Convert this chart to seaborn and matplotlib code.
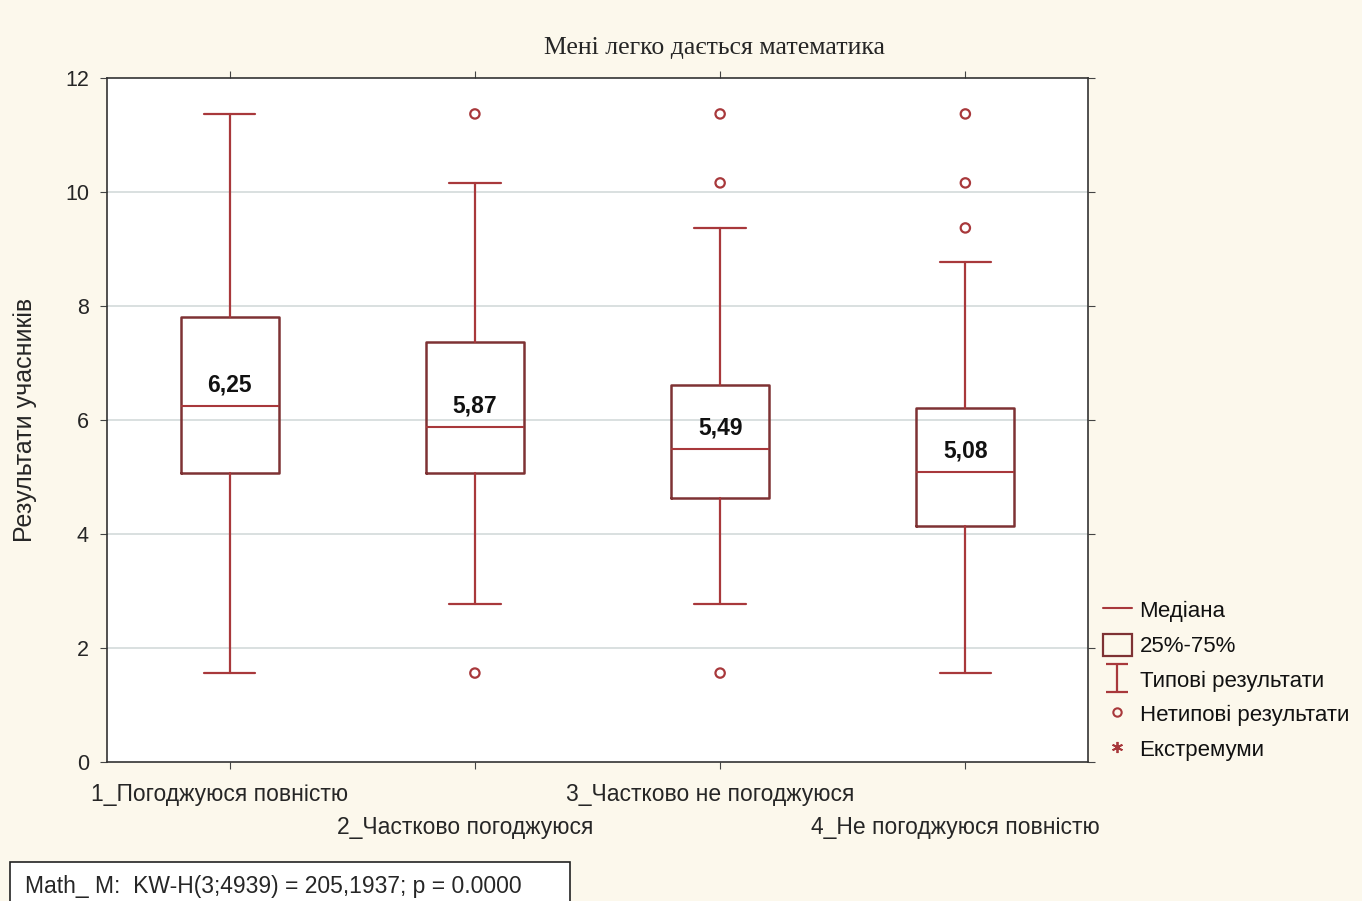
import matplotlib
matplotlib.use("Agg")
import matplotlib.pyplot as plt
import seaborn as sns
import pandas as pd
from matplotlib.lines import Line2D
from matplotlib.patches import Rectangle
from matplotlib.path import Path
from matplotlib.transforms import ScaledTranslation

sns.set_style("white")
plt.rcParams['font.family'] = ['Liberation Sans', 'DejaVu Sans']

groups = ["1_Погоджуюся повністю", "2_Частково погоджуюся",
          "3_Частково не погоджуюся", "4_Не погоджуюся повністю"]
medians = [6.25, 5.87, 5.49, 5.08]
q1 = [5.07, 5.07, 4.63, 4.14]
q3 = [7.81, 7.37, 6.61, 6.21]
whislo = [1.56, 2.77, 2.77, 1.56]
whishi = [11.37, 10.16, 9.37, 8.77]
outliers = [[], [11.37, 1.56], [11.37, 10.16, 1.56], [11.37, 10.16, 9.37]]

red = "#a8383b"
dark = "#7e3234"
bg = "#fcf8ec"

fig = plt.figure(figsize=(13.62, 9.01), dpi=100, facecolor=bg)
ax = fig.add_axes([0.0786, 0.1543, 0.7202, 0.7591])
ax.set_facecolor("white")

stats = [dict(med=m, q1=a, q3=b, whislo=lo, whishi=hi, fliers=[])
         for m, a, b, lo, hi in zip(medians, q1, q3, whislo, whishi)]
ax.bxp(stats, positions=range(4), widths=0.4, showfliers=False,
       boxprops=dict(color=dark, linewidth=1.8),
       medianprops=dict(color=red, linewidth=1.5),
       whiskerprops=dict(color=red, linewidth=1.6),
       capprops=dict(color=red, linewidth=1.6), capwidths=0.21)

fl = pd.DataFrame([(i, v) for i, vals in enumerate(outliers) for v in vals], columns=["x", "y"])
sns.scatterplot(data=fl, x="x", y="y", ax=ax, marker="o", s=45,
                facecolor="none", edgecolor=red, linewidth=1.6, zorder=3)

for i, m in enumerate(medians):
    ax.annotate(f"{m:.2f}".replace(".", ","), (i, m), xytext=(0, 7), textcoords="offset points",
                ha="center", va="bottom", fontsize=16.5, fontweight="bold", color="#111111")

ax.set_xlim(-0.5, 3.5)
ax.set_ylim(0, 12)
ax.set_yticks(range(0, 13, 2))
ax.set_yticklabels([str(v) for v in range(0, 13, 2)], fontsize=15.5)
ax.set_xticks(range(4))
ax.set_xticklabels(groups, fontsize=16.5)
ax.tick_params(axis="both", direction="out", length=5, color="#444444", pad=10)
ax.tick_params(axis="y", pad=8)
ax.tick_params(top=True, right=True, left=True, bottom=True, labeltop=False, labelright=False)
shift = ScaledTranslation(-0.10, 0, fig.dpi_scale_trans)
for i, t in enumerate(ax.xaxis.get_major_ticks()):
    if i % 2 == 1:
        t.set_pad(34)
    t.label1.set_transform(t.label1.get_transform() + shift)
ax.set_xlabel("")
ax.set_ylabel("Результати учасників", fontsize=18)
ax.yaxis.set_label_coords(-0.0714, 0.5)
for y in range(2, 12, 2):
    ax.axhline(y, color="#d3dada", linewidth=1.2, zorder=0)
for s in ax.spines.values():
    s.set_color("#333333")
    s.set_linewidth(1.2)

fig.text(715 / 1362, 1 - 48 / 901, "Мені легко дається математика", ha="center", va="center",
         fontsize=18.5, family=["Liberation Serif", "DejaVu Serif"])

ibeam = Path([(-0.8, -1), (0.8, -1), (0, -1), (0, 1), (-0.8, 1), (0.8, 1)],
             [Path.MOVETO, Path.LINETO, Path.MOVETO, Path.LINETO, Path.MOVETO, Path.LINETO])
handles = [
    Line2D([], [], color=red, linewidth=1.5),
    Rectangle((0, 0), 1, 1, facecolor="none", edgecolor=dark, linewidth=1.6),
    Line2D([], [], color=red, linestyle="none", marker=ibeam, markersize=20, markeredgewidth=1.6),
    Line2D([], [], color=red, linestyle="none", marker="o", markerfacecolor="none",
           markersize=6, markeredgewidth=1.5),
    Line2D([], [], color=red, linestyle="none", marker=(6, 2, 0), markersize=8, markeredgewidth=1.3),
]
labels = ["Медіана", "25%-75%", "Типові результати", "Нетипові результати", "Екстремуми"]
fig.legend(handles, labels, loc="upper left", bbox_to_anchor=(1094 / 1362, 1 - 590 / 901),
           frameon=False, handlelength=1.3, handleheight=1.15, handletextpad=0.35,
           labelspacing=0.5, borderaxespad=0, labelcolor="#111111", prop=dict(size=16))

fig.add_artist(Rectangle((10 / 1362, -0.01), 560 / 1362, (901 - 862) / 901 + 0.01,
                         transform=fig.transFigure, facecolor="white", edgecolor="#222222",
                         linewidth=1.2))
fig.text(25 / 1362, 1 - 886 / 901, "Math_ M:  KW-H(3;4939) = 205,1937; p = 0.0000",
         ha="left", va="center", fontsize=16.5)

fig.savefig("out.png", dpi=100, facecolor=bg)
